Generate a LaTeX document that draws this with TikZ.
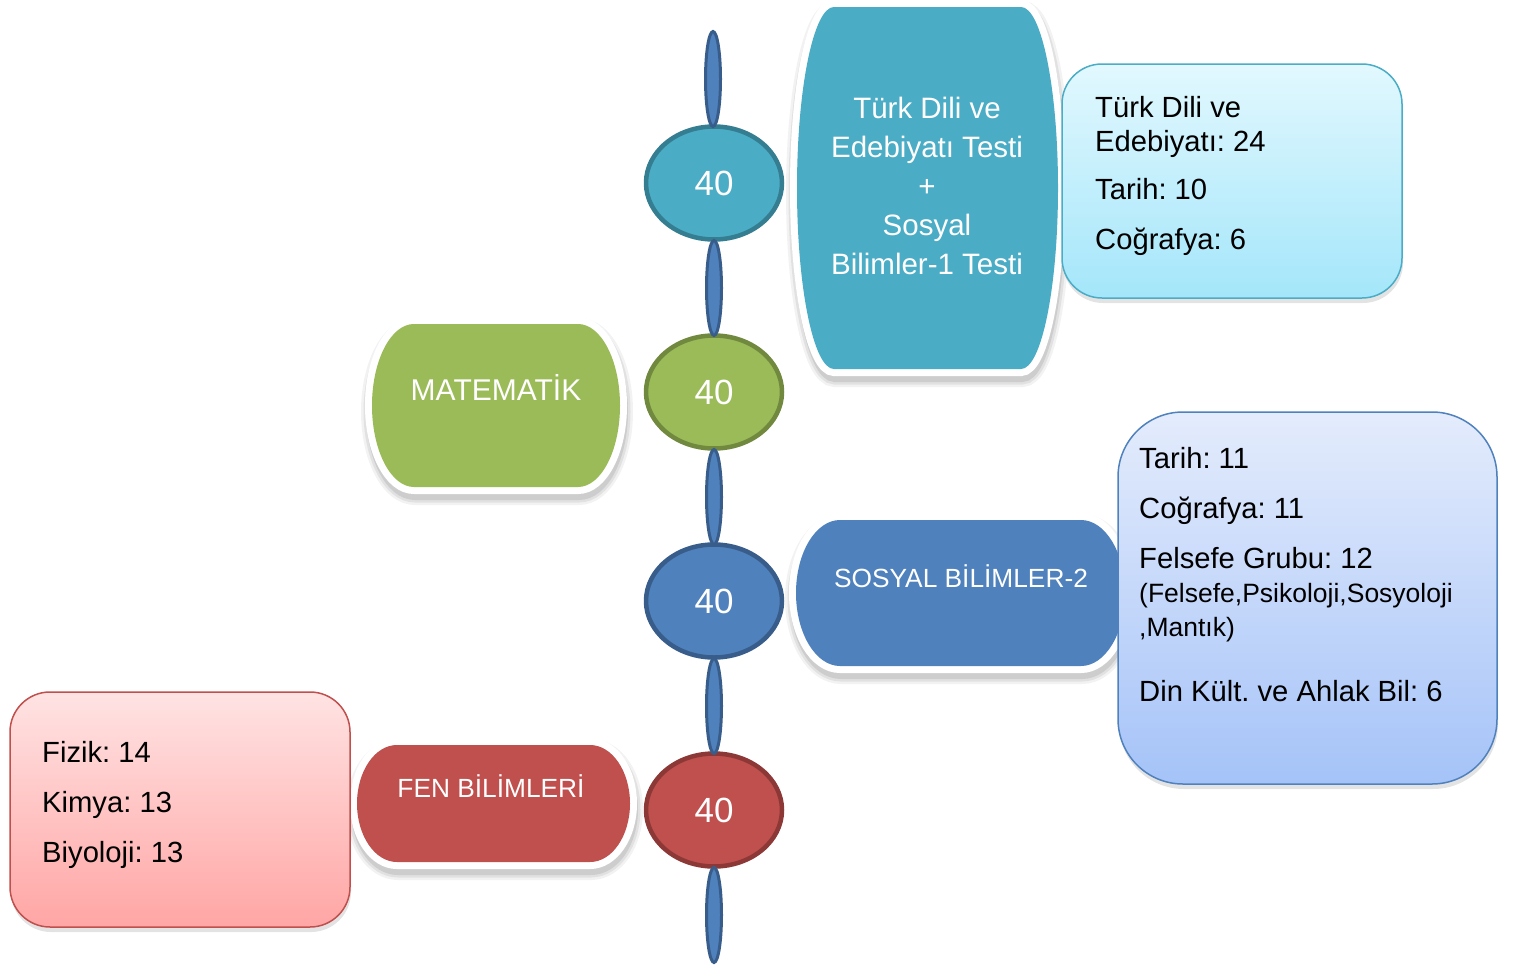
\documentclass[tikz,border=0pt]{standalone}
\usepackage{fontspec}
\setmainfont{Liberation Sans}
\frenchspacing
\usetikzlibrary{shapes.geometric,shadows}
\definecolor{tealF}{HTML}{4BACC6}
\definecolor{tealD}{HTML}{357D91}
\definecolor{greenF}{HTML}{9BBB59}
\definecolor{greenD}{HTML}{71893F}
\definecolor{blueF}{HTML}{4F81BD}
\definecolor{blueD}{HTML}{385D8A}
\definecolor{redF}{HTML}{C0504D}
\definecolor{redD}{HTML}{8C3836}
\definecolor{cyanTop}{HTML}{E2F8FE}
\definecolor{cyanBot}{HTML}{A4E6FA}
\definecolor{bluTop}{HTML}{E4ECFC}
\definecolor{bluBot}{HTML}{A5C3F8}
\definecolor{pinkTop}{HTML}{FFE3E3}
\definecolor{pinkBot}{HTML}{FFA6A5}
% bulging box with elliptical sides: L T R B c
\newcommand\bulgebox[5]{({#1+#5},#2) -- ({#3-#5},#2)
 .. controls ({#3-0.448*#5},#2) and (#3,{#2+0.224*(#4-#2)}) .. (#3,{0.5*(#2+#4)})
 .. controls (#3,{#4-0.224*(#4-#2)}) and ({#3-0.448*#5},#4) .. ({#3-#5},#4)
 -- ({#1+#5},#4)
 .. controls ({#1+0.448*#5},#4) and (#1,{#4-0.224*(#4-#2)}) .. (#1,{0.5*(#2+#4)})
 .. controls (#1,{#2+0.224*(#4-#2)}) and ({#1+0.448*#5},#2) .. cycle}
\tikzset{
 circ/.style={ellipse, draw, line width=4.5pt, minimum width=136pt, minimum height=113pt,
   inner sep=0pt, text=white, font=\fontsize{35}{40}\selectfont},
 lens/.style={ellipse, draw=blueD, fill=blueF, line width=3pt, minimum width=15pt,
   minimum height=95pt, inner sep=0pt},
 boxshadow/.style={drop shadow={shadow xshift=1pt, shadow yshift=-5pt, opacity=0.22}},
 softA/.style={draw=black, opacity=0.05, line width=24pt, shift={(1,6)}},
 softB/.style={draw=black, opacity=0.07, line width=19pt, shift={(1,6)}},
 softC/.style={draw=black, opacity=0.09, line width=14pt, shift={(1,6)}},
 outline/.style={fill=white, draw=white, line width=14pt},
 wline/.style={text=white, anchor=base, inner sep=0pt, font=\fontsize{29.5}{34}\selectfont},
 wbig/.style={text=white, anchor=base, inner sep=0pt, font=\fontsize{30}{34}\selectfont},
 wsmall/.style={text=white, anchor=base, inner sep=0pt, font=\fontsize{26.3}{30}\selectfont},
 bline/.style={text=black, anchor=base west, inner sep=0pt, font=\fontsize{29.2}{34}\selectfont},
 bsmall/.style={text=black, anchor=base west, inner sep=0pt, font=\fontsize{26.5}{31}\selectfont},
 detail/.style={boxshadow, line width=1.5pt}
}
\newcommand\mainbox[6]{%
 \path[softA] \bulgebox{#1}{#2}{#3}{#4}{#5};
 \path[softB] \bulgebox{#1}{#2}{#3}{#4}{#5};
 \path[softC] \bulgebox{#1}{#2}{#3}{#4}{#5};
 \path[outline] \bulgebox{#1}{#2}{#3}{#4}{#5};
 \fill[#6] \bulgebox{#1}{#2}{#3}{#4}{#5};}
\begin{document}
\begin{tikzpicture}[x=1pt,y=-1pt]
\path[use as bounding box] (0,0) rectangle (1513,969);

% main bulging boxes
\mainbox{797}{7}{1058}{369}{37}{tealF}
\mainbox{372}{324}{620}{487}{42}{greenF}
\mainbox{796}{520}{1125}{666}{44}{blueF}
\mainbox{357}{745}{630}{862}{40}{redF}

% detail boxes
\draw[detail, draw=tealF, top color=cyanTop, bottom color=cyanBot, rounded corners=40pt]
  (1062,64) rectangle (1402,298);
\draw[detail, draw=blueF, top color=bluTop, bottom color=bluBot, rounded corners=65pt]
  (1118,412) rectangle (1497,784);
\draw[detail, draw=redF, top color=pinkTop, bottom color=pinkBot, rounded corners=40pt]
  (10,692) rectangle (350,927);

% spine circles
\node[circ, draw=tealD, fill=tealF] (c1) at (714,183) {40};
\node[circ, draw=greenD, fill=greenF] (c2) at (714,392) {40};
\node[circ, draw=blueD, fill=blueF] (c3) at (714,601) {40};
\node[circ, draw=redD, fill=redF] (c4) at (714,810) {40};

% lens links
\node[lens] (l0) at (713,79) {};
\node[lens] (l1) at (714,288) {};
\node[lens] (l2) at (714,497) {};
\node[lens] (l3) at (714,706) {};
\node[lens] (l4) at (714,915) {};

% teal main text
\node[wline] (t1) at (927,118) {Türk Dili ve};
\node[wline] (t2) at (927,157) {Edebiyatı Testi};
\node[wline] (t3) at (927,196) {+};
\node[wline] (t4) at (927,235) {Sosyal};
\node[wline] (t5) at (927,274) {Bilimler-1 Testi};

% other main texts
\node[wbig] (mat) at (496,400) {MATEMATİK};
\node[wsmall] (sos) at (961,587) {SOSYAL BİLİMLER-2};
\node[wsmall] (fen) at (491,797) {FEN BİLİMLERİ};

% cyan detail text
\node[bline] (d1) at (1095,117) {Türk Dili ve};
\node[bline] (d2) at (1095,151) {Edebiyatı: 24};
\node[bline] (d3) at (1095,199) {Tarih: 10};
\node[bline] (d4) at (1095,249) {Coğrafya: 6};

% blue detail text
\node[bline] (s1) at (1139,468) {Tarih: 11};
\node[bline] (s2) at (1139,518) {Coğrafya: 11};
\node[bline] (s3) at (1139,568) {Felsefe Grubu: 12};
\node[bsmall] (s4) at (1139,602) {(Felsefe,Psikoloji,Sosyoloji};
\node[bsmall] (s5) at (1139,636) {,Mantık)};
\node[bline] (s6) at (1139,701) {Din Kült. ve Ahlak Bil: 6};

% pink detail text
\node[bline] (f1) at (42,762) {Fizik: 14};
\node[bline] (f2) at (42,812) {Kimya: 13};
\node[bline] (f3) at (42,862) {Biyoloji: 13};
\end{tikzpicture}
\end{document}
